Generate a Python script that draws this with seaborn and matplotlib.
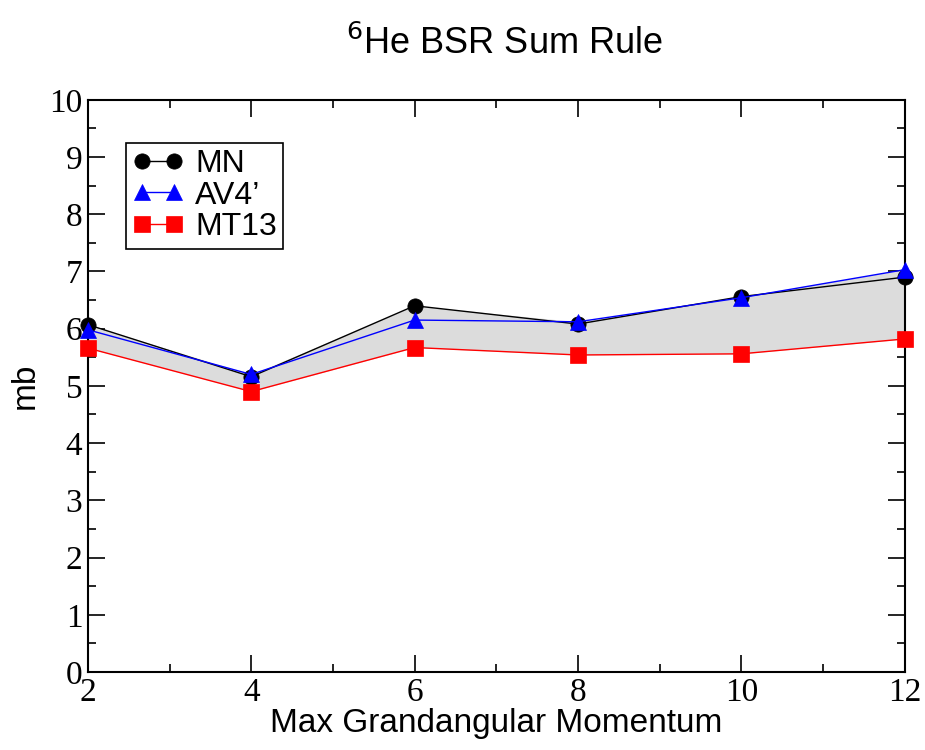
import numpy as np
import pandas as pd
import matplotlib
matplotlib.use("Agg")
import matplotlib.pyplot as plt
import seaborn as sns
from matplotlib.ticker import MultipleLocator

# Max grandangular momentum values and sum-rule results (mb)
kmax = [2, 4, 6, 8, 10, 12]
mn = [6.07, 5.16, 6.40, 6.08, 6.56, 6.90]
av4 = [5.98, 5.20, 6.15, 6.12, 6.54, 7.03]
mt13 = [5.66, 4.90, 5.67, 5.54, 5.56, 5.82]

series_names = ["MN", "AV4\u2019", "MT13"]
colors = ["black", "blue", "red"]
markers = ["o", "^", "s"]

sns.set_theme(style="ticks")
plt.rcParams["font.family"] = ["Liberation Sans", "DejaVu Sans"]
plt.rcParams["text.color"] = "black"
plt.rcParams["axes.labelcolor"] = "black"

df = pd.DataFrame({
    "K": kmax * 3,
    "mb": mn + av4 + mt13,
    "model": [series_names[0]] * 6 + [series_names[1]] * 6 + [series_names[2]] * 6,
})

fig = plt.figure(figsize=(9.25, 7.5), dpi=100)
ax = fig.add_axes([0.095, 0.104, 0.883, 0.763])

# shaded band spanning the spread of the three potentials
upper = np.maximum.reduce([mn, av4, mt13])
lower = np.minimum.reduce([mn, av4, mt13])
ax.fill_between(kmax, lower, upper, color="#dcdcdc", zorder=1, linewidth=0)

for name, c, m in zip(series_names, colors, markers):
    sub = df[df["model"] == name]
    sns.lineplot(data=sub, x="K", y="mb", ax=ax, color=c, marker=m,
                 markersize=11, markeredgecolor=c, markeredgewidth=0.5,
                 linewidth=1.0, label=name, zorder=3, clip_on=False)

ax.set_xlim(2, 12)
ax.set_ylim(0, 10)
ax.xaxis.set_major_locator(MultipleLocator(2))
ax.xaxis.set_minor_locator(MultipleLocator(1))
ax.yaxis.set_major_locator(MultipleLocator(1))
ax.yaxis.set_minor_locator(MultipleLocator(0.5))
ax.tick_params(which="both", direction="in", top=True, right=True,
               colors="black", labelcolor="black")
ax.tick_params(which="major", length=12, width=1.2)
ax.tick_params(which="minor", length=6, width=1.2)
for s in ax.spines.values():
    s.set_color("black")
    s.set_linewidth(1.5)

for lab in ax.get_xticklabels() + ax.get_yticklabels():
    lab.set_family("Liberation Serif")
    lab.set_fontsize(24)
ax.tick_params(axis="x", pad=4)
ax.tick_params(axis="y", pad=4)

ax.set_xlabel("Max Grandangular Momentum", fontsize=24, labelpad=0, color="black")
ax.set_ylabel("mb", fontsize=24, labelpad=6, color="black")
fig.text(0.545, 0.942, r"$^{6}$He BSR Sum Rule", ha="center", va="center", fontsize=26,
         color="black", math_fontfamily="dejavusans")

leg = ax.legend(loc="upper left", bbox_to_anchor=(0.047, 0.925), fontsize=23,
                frameon=True, fancybox=False, edgecolor="black", framealpha=1,
                numpoints=2, handlelength=1.6, handletextpad=0.35, borderpad=0.2,
                labelspacing=0.05, borderaxespad=0)
leg.get_frame().set_linewidth(1.2)
for t in leg.get_texts():
    t.set_color("black")

fig.savefig("out.png", dpi=100)
